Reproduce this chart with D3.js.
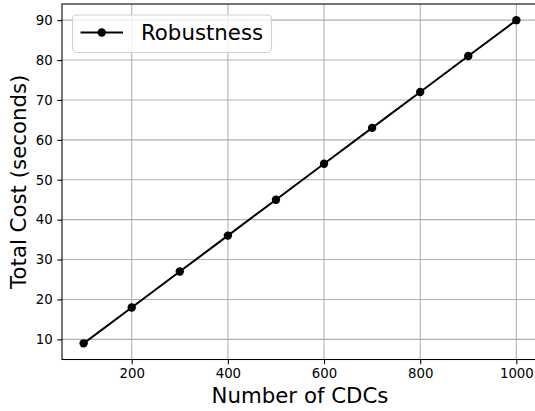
<!DOCTYPE html>
<html>
<head>
<meta charset="utf-8">
<script src="https://cdn.jsdelivr.net/npm/d3@7"></script>
<style>
  body { margin: 0; background: #fff; }
  svg { display: block; font-family: "DejaVu Sans", sans-serif; }
</style>
</head>
<body>
<svg id="chart"></svg>
<script>
// data
var cdcs = [100, 200, 300, 400, 500, 600, 700, 800, 900, 1000];
var totalCost = [9, 18, 27, 36, 45, 54, 63, 72, 81, 90];
var xTicks = [200, 400, 600, 800, 1000];
var yTicks = [10, 20, 30, 40, 50, 60, 70, 80, 90];
var seriesName = "Robustness";

var config = { w: 535, h: 411, left: 62, right: 538, top: 4, bottom: 359.5 };

var svg = d3.select("#chart")
  .attr("width", config.w)
  .attr("height", config.h);

// matplotlib style 5% margins
var x = d3.scaleLinear().domain([55, 1045]).range([config.left, config.right]);
var y = d3.scaleLinear().domain([4.95, 94.05]).range([config.bottom, config.top]);

var g = svg.append("g");

// grid
g.selectAll("line.vgrid")
  .data(xTicks)
  .enter().append("line")
    .attr("class", "vgrid")
    .attr("x1", function(d) { return x(d); })
    .attr("x2", function(d) { return x(d); })
    .attr("y1", config.top)
    .attr("y2", config.bottom)
    .attr("stroke", "#b0b0b0")
    .attr("stroke-width", 1.07);

g.selectAll("line.hgrid")
  .data(yTicks)
  .enter().append("line")
    .attr("class", "hgrid")
    .attr("y1", function(d) { return y(d); })
    .attr("y2", function(d) { return y(d); })
    .attr("x1", config.left)
    .attr("x2", config.right)
    .attr("stroke", "#b0b0b0")
    .attr("stroke-width", 1.07);

// axes
var xAxis = d3.axisBottom(x).tickValues(xTicks).tickSize(4.7).tickPadding(4.7).tickFormat(d3.format("d"));
var yAxis = d3.axisLeft(y).tickValues(yTicks).tickSize(4.7).tickPadding(4.7).tickFormat(d3.format("d"));

var gx = svg.append("g")
  .attr("transform", "translate(0," + config.bottom + ")")
  .call(xAxis);
var gy = svg.append("g")
  .attr("transform", "translate(" + config.left + ",0)")
  .call(yAxis);

[gx, gy].forEach(function(ax) {
  ax.select(".domain").remove();
  ax.selectAll(".tick line").attr("stroke", "#000").attr("stroke-width", 1.07);
  ax.selectAll(".tick text")
    .attr("fill", "#000")
    .style("font-size", "13.3px")
    .style("font-family", "DejaVu Sans");
});

// spines
svg.append("rect")
  .attr("x", config.left)
  .attr("y", config.top)
  .attr("width", config.right - config.left)
  .attr("height", config.bottom - config.top)
  .attr("fill", "none")
  .attr("stroke", "#000")
  .attr("stroke-width", 1.07);

// line + markers
var line = d3.line()
  .x(function(d, i) { return x(cdcs[i]); })
  .y(function(d) { return y(d); });

g.append("path")
  .datum(totalCost)
  .attr("d", line)
  .attr("fill", "none")
  .attr("stroke", "#000")
  .attr("stroke-width", 2);

g.selectAll("circle")
  .data(totalCost)
  .enter().append("circle")
    .attr("cx", function(d, i) { return x(cdcs[i]); })
    .attr("cy", function(d) { return y(d); })
    .attr("r", 4.2)
    .attr("fill", "#000");

// labels
svg.append("text")
  .attr("x", (config.left + config.right) / 2)
  .attr("y", 402.5)
  .attr("text-anchor", "middle")
  .style("font-size", "21.3px")
  .text("Number of CDCs");

svg.append("text")
  .attr("transform", "translate(26," + ((config.top + config.bottom) / 2) + ") rotate(-90)")
  .attr("text-anchor", "middle")
  .style("font-size", "21.3px")
  .text("Total Cost (seconds)");

// legend
var leg = svg.append("g").attr("transform", "translate(72.5,15)");
leg.append("rect")
  .attr("width", 199)
  .attr("height", 37.5)
  .attr("rx", 4)
  .attr("fill", "#fff")
  .attr("fill-opacity", 0.8)
  .attr("stroke", "#d0d0d0")
  .attr("stroke-width", 1.07);
leg.append("line")
  .attr("x1", 8).attr("x2", 50.5)
  .attr("y1", 17.5).attr("y2", 17.5)
  .attr("stroke", "#000")
  .attr("stroke-width", 2);
leg.append("circle")
  .attr("cx", 29.2).attr("cy", 17.5).attr("r", 4.2)
  .attr("fill", "#000");
leg.append("text")
  .attr("x", 68.5)
  .attr("y", 25.3)
  .style("font-size", "21.3px")
  .text(seriesName);
</script>
</body>
</html>
